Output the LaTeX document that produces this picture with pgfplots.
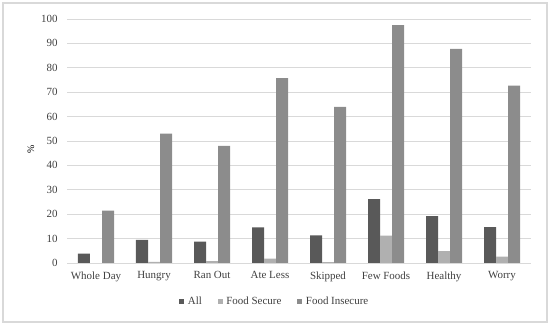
\documentclass[border=0pt]{standalone}
\usepackage{pgfplots}
\pgfplotsset{compat=1.18}
\usepackage{fontspec}
\setmainfont{Liberation Serif}
\definecolor{cAll}{HTML}{595959}
\definecolor{cFS}{HTML}{B0B0B0}
\definecolor{cFI}{HTML}{8C8C8C}
\definecolor{gridc}{HTML}{D9D9D9}
\definecolor{txt}{HTML}{404040}
\begin{document}
\begin{tikzpicture}
\useasboundingbox (0,0) rectangle (550bp,325bp);
\draw[gridc, line width=1.2bp] (3bp,3bp) rectangle (547bp,322bp);
\begin{axis}[
  at={(67bp,62bp)}, anchor=south west,
  scale only axis, width=464bp, height=244bp,
  xmin=-0.5, xmax=7.5, ymin=0, ymax=100,
  ytick={0,10,...,100},
  xtick={0,...,7},
  xticklabels={Whole Day,Hungry,Ran Out,Ate Less,Skipped,Few Foods,Healthy,Worry},
  ymajorgrids, grid style={gridc, line width=0.8bp},
  axis x line*=bottom, axis y line*=left,
  x axis line style={gridc, line width=0.8bp, -},
  y axis line style={draw=none},
  major tick length=0pt,
  tick label style={font=\fontsize{11}{13}\selectfont, text=txt},
  /pgf/number format/assume math mode=true,
  yticklabel style={xshift=-6bp},
  xticklabel style={yshift=-5bp},
  ylabel={\%}, ylabel style={font=\fontsize{11}{13}\selectfont, text=txt},
  every axis y label/.style={at={(ticklabel cs:0.5)}, rotate=90, anchor=near ticklabel, xshift=-8bp},
  ybar, bar width=12bp,
  legend style={at={(0.448,-0.12)}, anchor=north, draw=none, legend columns=3,
    font=\fontsize{11}{13}\selectfont, text=txt,
    /tikz/every even column/.append style={column sep=14bp},
    /tikz/every odd column/.append style={column sep=1.5bp}},
  legend image code/.code={\fill[#1] (0bp,-2.5bp) rectangle (5bp,2.5bp);},
]
\addplot[fill=cAll, draw=none, bar shift=-12bp] coordinates {(0,3.8) (1,9.5) (2,8.8) (3,14.6) (4,11.3) (5,26.2) (6,19.2) (7,14.7)};
\addplot[fill=cFS, draw=none, bar shift=0bp] coordinates {(0,0) (1,0.5) (2,0.8) (3,1.8) (4,0.4) (5,11.2) (6,4.9) (7,2.6)};
\addplot[fill=cFI, draw=none, bar shift=12bp] coordinates {(0,21.5) (1,53) (2,48) (3,75.8) (4,64) (5,97.5) (6,87.8) (7,72.7)};
\legend{All,Food Secure,Food Insecure}
\end{axis}
\end{tikzpicture}
\end{document}
